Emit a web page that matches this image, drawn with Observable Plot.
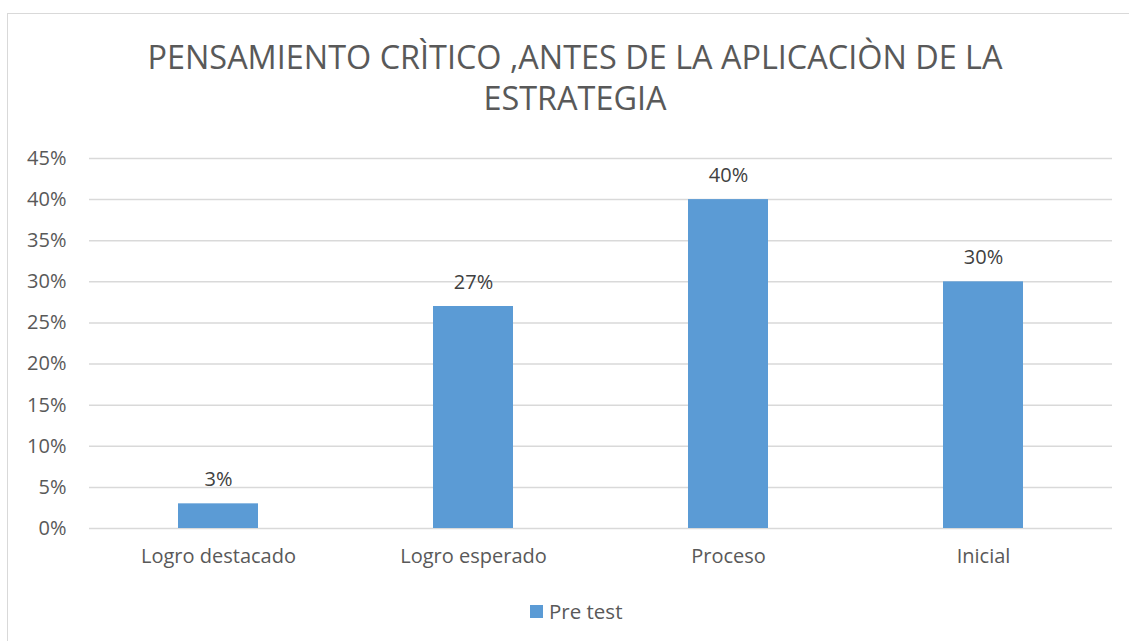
<!DOCTYPE html>
<html><head><meta charset="utf-8">
<script src="https://cdn.jsdelivr.net/npm/d3@7"></script>
<script src="https://cdn.jsdelivr.net/npm/@observablehq/plot@0.6"></script>
<style>
body{margin:0;background:#fff;font-family:"Open Sans",sans-serif;}
#wrap{position:relative;width:1129px;height:641px;overflow:hidden;}
#frame{position:absolute;left:7px;top:13px;width:1140px;height:640px;border:1px solid #d9d9d9;box-sizing:border-box;}
#title{position:absolute;left:0;top:36px;width:1150px;text-align:center;font-size:32.4px;line-height:41px;color:#595959;font-weight:400;}
#chart{position:absolute;left:0;top:140px;}
#legend{position:absolute;top:597px;left:530px;font-size:20.5px;color:#595959;display:flex;align-items:center;}
#legend span.sw{display:inline-block;width:13px;height:13px;background:#5b9bd5;margin-right:6px;}
</style></head><body>
<div id="wrap">
<div id="frame"></div>
<div id="title">PENSAMIENTO CRÌTICO ,ANTES DE LA APLICACIÒN DE LA<br>ESTRATEGIA</div>
<div id="chart"></div>
<div id="legend"><span class="sw"></span>Pre test</div>
</div>
<script>
const categories = ["Logro destacado","Logro esperado","Proceso","Inicial"];
const values = [0.03, 0.27, 0.40, 0.30];
const yTicks = [0,0.05,0.10,0.15,0.20,0.25,0.30,0.35,0.40,0.45];
const seriesName = "Pre test";

const data = categories.map((c,i)=>({cat:c, v:values[i]}));
const pct = d => Math.round(d*100) + "%";

const chart = Plot.plot({
  width: 1129, height: 460,
  marginLeft: 89, marginRight: 17, marginTop: 18, marginBottom: 72,
  style: {fontFamily: '"Open Sans", sans-serif', fontSize: "20px", color: "#595959", background: "transparent"},
  x: {domain: categories, paddingInner: 0.6875, paddingOuter: 0.34375, label: null},
  y: {domain: [0, 0.45], label: null},
  marks: [
    Plot.gridY(yTicks, {stroke: "#d9d9d9", strokeOpacity: 1, strokeWidth: 1.5}),
    Plot.barY(data, {x: "cat", y: "v", fill: "#5b9bd5"}),
    Plot.text(data, {x: "cat", y: "v", text: d => pct(d.v), dy: -24, fill: "#404040", fontSize: 20}),
    Plot.axisX({tickSize: 0, tickPadding: 20, fontSize: 20, fill: "#595959", label: null}),
    Plot.axisY({ticks: yTicks, tickFormat: pct, tickSize: 0, tickPadding: 23, fontSize: 20, fill: "#595959", label: null})
  ]
});
document.getElementById("chart").appendChild(chart);
</script>
</body></html>
